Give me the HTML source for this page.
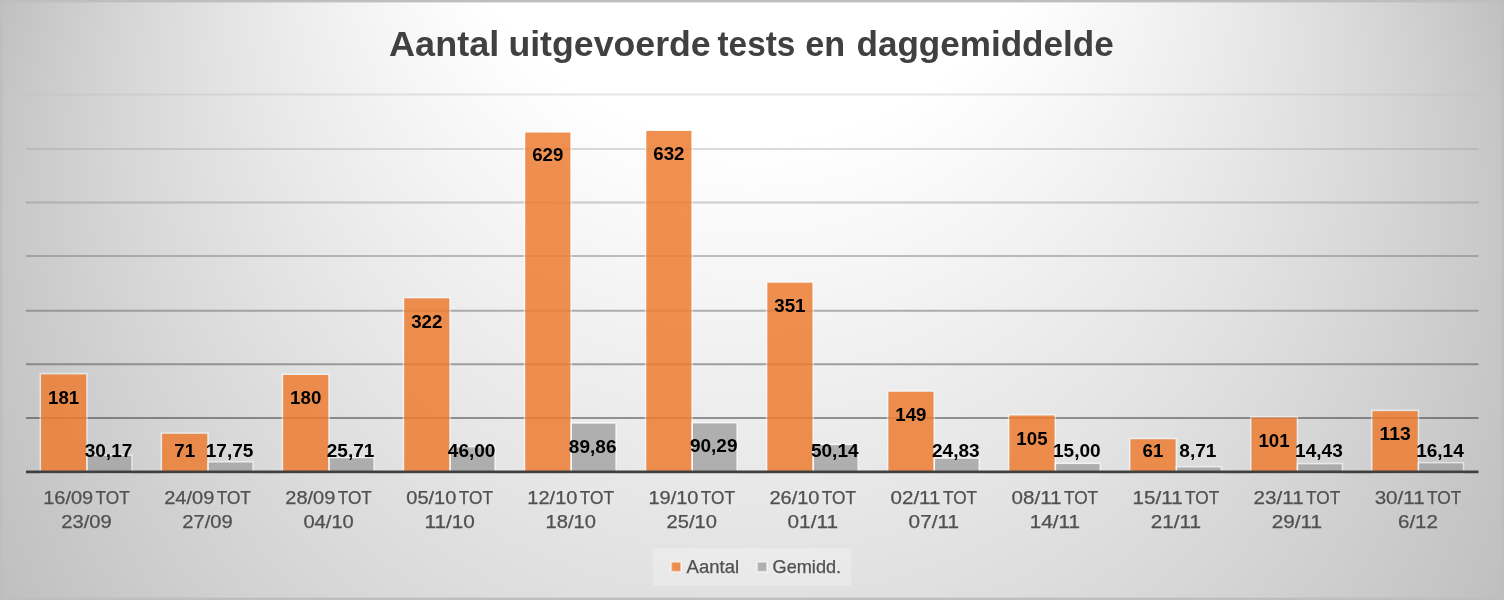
<!DOCTYPE html>
<html lang="nl"><head><meta charset="utf-8"><title>Aantal uitgevoerde tests en daggemiddelde</title>
<style>
html,body{margin:0;padding:0;background:#bfbfbf;overflow:hidden}
svg{display:block}
text{font-family:"Liberation Sans",sans-serif}
.dl{font-weight:bold;fill:#000;font-size:17.7px;text-anchor:middle}
.cl{fill:#505050;stroke:#505050;stroke-width:0.25px;font-size:17.7px}
.lg{fill:#505050;stroke:#505050;stroke-width:0.25px;font-size:17.7px}
.ti{font-weight:bold;fill:#404040;font-size:35px}
</style></head><body>
<svg width="1504" height="600" viewBox="0 0 1504 600">
<defs>
<radialGradient id="bg" gradientUnits="userSpaceOnUse" cx="752" cy="300" r="809.6" fx="752" fy="-480">
<stop offset="0" stop-color="#ffffff"/><stop offset="0.39" stop-color="#ffffff"/><stop offset="1" stop-color="#bfbfbf"/>
</radialGradient>
</defs>
<rect x="0" y="0" width="1504" height="600" fill="url(#bg)"/>
<rect x="1.2" y="1.2" width="1501.6" height="597.6" fill="none" stroke="#bebebe" stroke-width="2.4"/>
<g stroke-width="2" stroke-opacity="0.4">
<line x1="26" x2="1478.5" y1="94.4" y2="94.4" stroke="rgb(193,193,193)"/>
<line x1="26" x2="1478.5" y1="149" y2="149" stroke="rgb(162,162,162)"/>
<line x1="26" x2="1478.5" y1="202.4" y2="202.4" stroke="rgb(132,132,132)"/>
<line x1="26" x2="1478.5" y1="256" y2="256" stroke="rgb(102,102,102)"/>
<line x1="26" x2="1478.5" y1="310.7" y2="310.7" stroke="rgb(71,71,71)"/>
<line x1="26" x2="1478.5" y1="364.3" y2="364.3" stroke="rgb(40,40,40)"/>
<line x1="26" x2="1478.5" y1="417.9" y2="417.9" stroke="rgb(10,10,10)"/>
</g>
<path fill="#ffffff" fill-opacity="0.5" fill-rule="evenodd" d="M39.5 372.86h48.3v100.94h-48.3z M41.1 374.46h45.1v97.74h-45.1z"/>
<rect x="41.1" y="374.46" width="45.1" height="97.74" fill="#ed7d31" fill-opacity="0.85"/>
<path fill="#ffffff" fill-opacity="0.5" fill-rule="evenodd" d="M86.2 454.31h46.6v19.49h-46.6z M87.8 455.91h43.4v16.29h-43.4z"/>
<rect x="87.8" y="455.91" width="43.4" height="16.29" fill="#a5a5a5" fill-opacity="0.85"/>
<path fill="#ffffff" fill-opacity="0.5" fill-rule="evenodd" d="M160.54 432.26h48.3v41.54h-48.3z M162.14 433.86h45.1v38.34h-45.1z"/>
<rect x="162.14" y="433.86" width="45.1" height="38.34" fill="#ed7d31" fill-opacity="0.85"/>
<path fill="#ffffff" fill-opacity="0.5" fill-rule="evenodd" d="M207.24 461.01h46.6v12.79h-46.6z M208.84 462.62h43.4v9.59h-43.4z"/>
<rect x="208.84" y="462.62" width="43.4" height="9.59" fill="#a5a5a5" fill-opacity="0.85"/>
<path fill="#ffffff" fill-opacity="0.5" fill-rule="evenodd" d="M281.58 373.4h48.3v100.4h-48.3z M283.18 375h45.1v97.2h-45.1z"/>
<rect x="283.18" y="375" width="45.1" height="97.2" fill="#ed7d31" fill-opacity="0.85"/>
<path fill="#ffffff" fill-opacity="0.5" fill-rule="evenodd" d="M328.28 456.72h46.6v17.08h-46.6z M329.88 458.32h43.4v13.88h-43.4z"/>
<rect x="329.88" y="458.32" width="43.4" height="13.88" fill="#a5a5a5" fill-opacity="0.85"/>
<path fill="#ffffff" fill-opacity="0.5" fill-rule="evenodd" d="M402.62 296.72h48.3v177.08h-48.3z M404.23 298.32h45.1v173.88h-45.1z"/>
<rect x="404.23" y="298.32" width="45.1" height="173.88" fill="#ed7d31" fill-opacity="0.85"/>
<path fill="#ffffff" fill-opacity="0.5" fill-rule="evenodd" d="M449.32 445.76h46.6v28.04h-46.6z M450.93 447.36h43.4v24.84h-43.4z"/>
<rect x="450.93" y="447.36" width="43.4" height="24.84" fill="#a5a5a5" fill-opacity="0.85"/>
<path fill="#ffffff" fill-opacity="0.5" fill-rule="evenodd" d="M523.67 130.94h48.3v342.86h-48.3z M525.27 132.54h45.1v339.66h-45.1z"/>
<rect x="525.27" y="132.54" width="45.1" height="339.66" fill="#ed7d31" fill-opacity="0.85"/>
<path fill="#ffffff" fill-opacity="0.5" fill-rule="evenodd" d="M570.37 422.08h46.6v51.72h-46.6z M571.97 423.68h43.4v48.52h-43.4z"/>
<rect x="571.97" y="423.68" width="43.4" height="48.52" fill="#a5a5a5" fill-opacity="0.85"/>
<path fill="#ffffff" fill-opacity="0.5" fill-rule="evenodd" d="M644.71 129.32h48.3v344.48h-48.3z M646.31 130.92h45.1v341.28h-45.1z"/>
<rect x="646.31" y="130.92" width="45.1" height="341.28" fill="#ed7d31" fill-opacity="0.85"/>
<path fill="#ffffff" fill-opacity="0.5" fill-rule="evenodd" d="M691.41 421.84h46.6v51.96h-46.6z M693.01 423.44h43.4v48.76h-43.4z"/>
<rect x="693.01" y="423.44" width="43.4" height="48.76" fill="#a5a5a5" fill-opacity="0.85"/>
<path fill="#ffffff" fill-opacity="0.5" fill-rule="evenodd" d="M765.75 281.06h48.3v192.74h-48.3z M767.35 282.66h45.1v189.54h-45.1z"/>
<rect x="767.35" y="282.66" width="45.1" height="189.54" fill="#ed7d31" fill-opacity="0.85"/>
<path fill="#ffffff" fill-opacity="0.5" fill-rule="evenodd" d="M812.45 443.52h46.6v30.28h-46.6z M814.05 445.12h43.4v27.08h-43.4z"/>
<rect x="814.05" y="445.12" width="43.4" height="27.08" fill="#a5a5a5" fill-opacity="0.85"/>
<path fill="#ffffff" fill-opacity="0.5" fill-rule="evenodd" d="M886.79 390.14h48.3v83.66h-48.3z M888.39 391.74h45.1v80.46h-45.1z"/>
<rect x="888.39" y="391.74" width="45.1" height="80.46" fill="#ed7d31" fill-opacity="0.85"/>
<path fill="#ffffff" fill-opacity="0.5" fill-rule="evenodd" d="M933.49 457.19h46.6v16.61h-46.6z M935.09 458.79h43.4v13.41h-43.4z"/>
<rect x="935.09" y="458.79" width="43.4" height="13.41" fill="#a5a5a5" fill-opacity="0.85"/>
<path fill="#ffffff" fill-opacity="0.5" fill-rule="evenodd" d="M1007.83 413.9h48.3v59.9h-48.3z M1009.43 415.5h45.1v56.7h-45.1z"/>
<rect x="1009.43" y="415.5" width="45.1" height="56.7" fill="#ed7d31" fill-opacity="0.85"/>
<path fill="#ffffff" fill-opacity="0.5" fill-rule="evenodd" d="M1054.53 462.5h46.6v11.3h-46.6z M1056.13 464.1h43.4v8.1h-43.4z"/>
<rect x="1056.13" y="464.1" width="43.4" height="8.1" fill="#a5a5a5" fill-opacity="0.85"/>
<path fill="#ffffff" fill-opacity="0.5" fill-rule="evenodd" d="M1128.88 437.66h48.3v36.14h-48.3z M1130.47 439.26h45.1v32.94h-45.1z"/>
<rect x="1130.47" y="439.26" width="45.1" height="32.94" fill="#ed7d31" fill-opacity="0.85"/>
<path fill="#ffffff" fill-opacity="0.5" fill-rule="evenodd" d="M1175.58 465.9h46.6v7.9h-46.6z M1177.17 467.5h43.4v4.7h-43.4z"/>
<rect x="1177.17" y="467.5" width="43.4" height="4.7" fill="#a5a5a5" fill-opacity="0.85"/>
<path fill="#ffffff" fill-opacity="0.5" fill-rule="evenodd" d="M1249.92 416.06h48.3v57.74h-48.3z M1251.52 417.66h45.1v54.54h-45.1z"/>
<rect x="1251.52" y="417.66" width="45.1" height="54.54" fill="#ed7d31" fill-opacity="0.85"/>
<path fill="#ffffff" fill-opacity="0.5" fill-rule="evenodd" d="M1296.62 462.81h46.6v10.99h-46.6z M1298.22 464.41h43.4v7.79h-43.4z"/>
<rect x="1298.22" y="464.41" width="43.4" height="7.79" fill="#a5a5a5" fill-opacity="0.85"/>
<path fill="#ffffff" fill-opacity="0.5" fill-rule="evenodd" d="M1370.96 409.58h48.3v64.22h-48.3z M1372.56 411.18h45.1v61.02h-45.1z"/>
<rect x="1372.56" y="411.18" width="45.1" height="61.02" fill="#ed7d31" fill-opacity="0.85"/>
<path fill="#ffffff" fill-opacity="0.5" fill-rule="evenodd" d="M1417.66 461.88h46.6v11.92h-46.6z M1419.26 463.48h43.4v8.72h-43.4z"/>
<rect x="1419.26" y="463.48" width="43.4" height="8.72" fill="#a5a5a5" fill-opacity="0.85"/>
<line x1="26" x2="1478.5" y1="471.85" y2="471.85" stroke="#404040" stroke-width="2.8"/>
<text class="dl" x="63.65" y="403.56" textLength="31.2" lengthAdjust="spacingAndGlyphs">181</text>
<text class="dl" x="108.5" y="457" textLength="47.6" lengthAdjust="spacingAndGlyphs">30,17</text>
<text class="dl" x="184.69" y="457" textLength="20.8" lengthAdjust="spacingAndGlyphs">71</text>
<text class="dl" x="229.54" y="457" textLength="47.6" lengthAdjust="spacingAndGlyphs">17,75</text>
<text class="dl" x="305.73" y="404.1" textLength="31.2" lengthAdjust="spacingAndGlyphs">180</text>
<text class="dl" x="350.58" y="457" textLength="47.6" lengthAdjust="spacingAndGlyphs">25,71</text>
<text class="dl" x="426.78" y="328" textLength="31.2" lengthAdjust="spacingAndGlyphs">322</text>
<text class="dl" x="471.62" y="457" textLength="47.6" lengthAdjust="spacingAndGlyphs">46,00</text>
<text class="dl" x="547.82" y="161" textLength="31.2" lengthAdjust="spacingAndGlyphs">629</text>
<text class="dl" x="592.67" y="452.58" textLength="47.6" lengthAdjust="spacingAndGlyphs">89,86</text>
<text class="dl" x="668.86" y="160.02" textLength="31.2" lengthAdjust="spacingAndGlyphs">632</text>
<text class="dl" x="713.71" y="452.34" textLength="47.6" lengthAdjust="spacingAndGlyphs">90,29</text>
<text class="dl" x="789.9" y="311.76" textLength="31.2" lengthAdjust="spacingAndGlyphs">351</text>
<text class="dl" x="834.75" y="457" textLength="47.6" lengthAdjust="spacingAndGlyphs">50,14</text>
<text class="dl" x="910.94" y="420.84" textLength="31.2" lengthAdjust="spacingAndGlyphs">149</text>
<text class="dl" x="955.79" y="457" textLength="47.6" lengthAdjust="spacingAndGlyphs">24,83</text>
<text class="dl" x="1031.98" y="444.6" textLength="31.2" lengthAdjust="spacingAndGlyphs">105</text>
<text class="dl" x="1076.83" y="457" textLength="47.6" lengthAdjust="spacingAndGlyphs">15,00</text>
<text class="dl" x="1153.02" y="457" textLength="20.8" lengthAdjust="spacingAndGlyphs">61</text>
<text class="dl" x="1197.88" y="457" textLength="37.2" lengthAdjust="spacingAndGlyphs">8,71</text>
<text class="dl" x="1274.07" y="446.76" textLength="31.2" lengthAdjust="spacingAndGlyphs">101</text>
<text class="dl" x="1318.92" y="457" textLength="47.6" lengthAdjust="spacingAndGlyphs">14,43</text>
<text class="dl" x="1395.11" y="440.28" textLength="31.2" lengthAdjust="spacingAndGlyphs">113</text>
<text class="dl" x="1439.96" y="457" textLength="47.6" lengthAdjust="spacingAndGlyphs">16,14</text>
<text class="cl" y="503.7"><tspan x="43.22" textLength="50" lengthAdjust="spacingAndGlyphs">16/09</tspan> <tspan x="95.62" textLength="34.2" lengthAdjust="spacingAndGlyphs">TOT</tspan></text>
<text class="cl" x="61.32" y="528" textLength="50.4" lengthAdjust="spacingAndGlyphs">23/09</text>
<text class="cl" y="503.7"><tspan x="164.26" textLength="50" lengthAdjust="spacingAndGlyphs">24/09</tspan> <tspan x="216.66" textLength="34.2" lengthAdjust="spacingAndGlyphs">TOT</tspan></text>
<text class="cl" x="182.36" y="528" textLength="50.4" lengthAdjust="spacingAndGlyphs">27/09</text>
<text class="cl" y="503.7"><tspan x="285.3" textLength="50" lengthAdjust="spacingAndGlyphs">28/09</tspan> <tspan x="337.7" textLength="34.2" lengthAdjust="spacingAndGlyphs">TOT</tspan></text>
<text class="cl" x="303.4" y="528" textLength="50.4" lengthAdjust="spacingAndGlyphs">04/10</text>
<text class="cl" y="503.7"><tspan x="406.35" textLength="50" lengthAdjust="spacingAndGlyphs">05/10</tspan> <tspan x="458.75" textLength="34.2" lengthAdjust="spacingAndGlyphs">TOT</tspan></text>
<text class="cl" x="424.45" y="528" textLength="50.4" lengthAdjust="spacingAndGlyphs">11/10</text>
<text class="cl" y="503.7"><tspan x="527.39" textLength="50" lengthAdjust="spacingAndGlyphs">12/10</tspan> <tspan x="579.79" textLength="34.2" lengthAdjust="spacingAndGlyphs">TOT</tspan></text>
<text class="cl" x="545.49" y="528" textLength="50.4" lengthAdjust="spacingAndGlyphs">18/10</text>
<text class="cl" y="503.7"><tspan x="648.43" textLength="50" lengthAdjust="spacingAndGlyphs">19/10</tspan> <tspan x="700.83" textLength="34.2" lengthAdjust="spacingAndGlyphs">TOT</tspan></text>
<text class="cl" x="666.53" y="528" textLength="50.4" lengthAdjust="spacingAndGlyphs">25/10</text>
<text class="cl" y="503.7"><tspan x="769.47" textLength="50" lengthAdjust="spacingAndGlyphs">26/10</tspan> <tspan x="821.87" textLength="34.2" lengthAdjust="spacingAndGlyphs">TOT</tspan></text>
<text class="cl" x="787.57" y="528" textLength="50.4" lengthAdjust="spacingAndGlyphs">01/11</text>
<text class="cl" y="503.7"><tspan x="890.51" textLength="50" lengthAdjust="spacingAndGlyphs">02/11</tspan> <tspan x="942.91" textLength="34.2" lengthAdjust="spacingAndGlyphs">TOT</tspan></text>
<text class="cl" x="908.61" y="528" textLength="50.4" lengthAdjust="spacingAndGlyphs">07/11</text>
<text class="cl" y="503.7"><tspan x="1011.55" textLength="50" lengthAdjust="spacingAndGlyphs">08/11</tspan> <tspan x="1063.95" textLength="34.2" lengthAdjust="spacingAndGlyphs">TOT</tspan></text>
<text class="cl" x="1029.65" y="528" textLength="50.4" lengthAdjust="spacingAndGlyphs">14/11</text>
<text class="cl" y="503.7"><tspan x="1132.6" textLength="50" lengthAdjust="spacingAndGlyphs">15/11</tspan> <tspan x="1185" textLength="34.2" lengthAdjust="spacingAndGlyphs">TOT</tspan></text>
<text class="cl" x="1150.7" y="528" textLength="50.4" lengthAdjust="spacingAndGlyphs">21/11</text>
<text class="cl" y="503.7"><tspan x="1253.64" textLength="50" lengthAdjust="spacingAndGlyphs">23/11</tspan> <tspan x="1306.04" textLength="34.2" lengthAdjust="spacingAndGlyphs">TOT</tspan></text>
<text class="cl" x="1271.74" y="528" textLength="50.4" lengthAdjust="spacingAndGlyphs">29/11</text>
<text class="cl" y="503.7"><tspan x="1374.68" textLength="50" lengthAdjust="spacingAndGlyphs">30/11</tspan> <tspan x="1427.08" textLength="34.2" lengthAdjust="spacingAndGlyphs">TOT</tspan></text>
<text class="cl" x="1397.98" y="528" textLength="40" lengthAdjust="spacingAndGlyphs">6/12</text>
<rect x="652.5" y="548.5" width="199" height="37.3" fill="#ffffff" fill-opacity="0.25"/>
<rect x="671.2" y="561.9" width="9.8" height="9.8" fill="#ed7d31" fill-opacity="0.85" stroke="#fff" stroke-opacity="0.5" stroke-width="2"/>
<text class="lg" x="686.6" y="572.5" textLength="52.5" lengthAdjust="spacingAndGlyphs">Aantal</text>
<rect x="757.2" y="561.9" width="9.8" height="9.8" fill="#a5a5a5" fill-opacity="0.85" stroke="#fff" stroke-opacity="0.5" stroke-width="2"/>
<text class="lg" x="772.6" y="572.5" textLength="68.5" lengthAdjust="spacingAndGlyphs">Gemidd.</text>
<text class="ti" y="56.4"><tspan x="389.1" textLength="110.1" lengthAdjust="spacingAndGlyphs">Aantal</tspan> <tspan x="508.4" textLength="202.3" lengthAdjust="spacingAndGlyphs">uitgevoerde</tspan> <tspan x="717.5" textLength="77.8" lengthAdjust="spacingAndGlyphs">tests</tspan> <tspan x="805.2" textLength="39.9" lengthAdjust="spacingAndGlyphs">en</tspan> <tspan x="856.5" textLength="257.2" lengthAdjust="spacingAndGlyphs">daggemiddelde</tspan></text>
</svg>
</body></html>
